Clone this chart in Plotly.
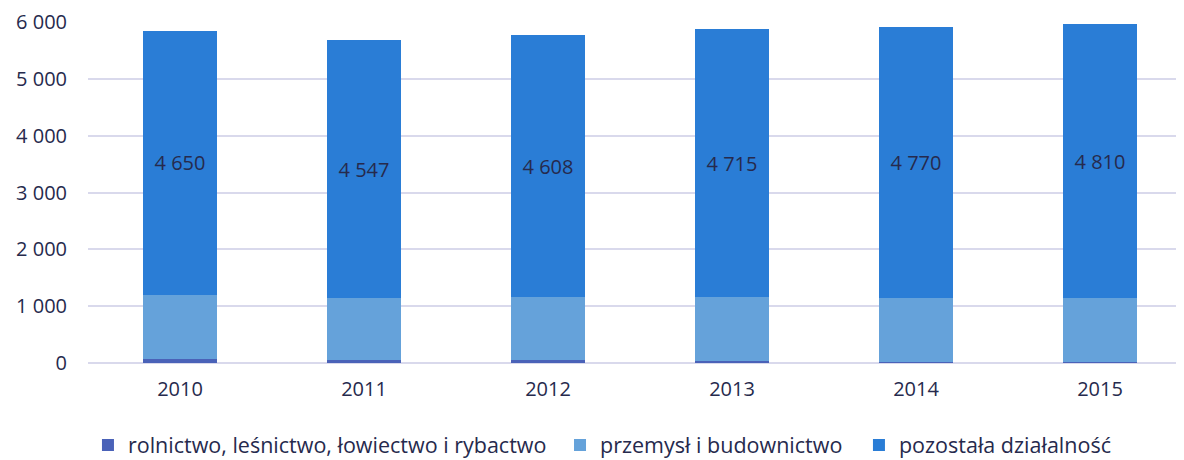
import plotly.graph_objects as go

years = ["2010", "2011", "2012", "2013", "2014", "2015"]
rolnictwo = [65, 55, 45, 30, 15, 10]
przemysl = [1130, 1082, 1112, 1125, 1120, 1138]
pozostala = [4650, 4547, 4608, 4715, 4770, 4810]

names = ["rolnictwo, leśnictwo, łowiectwo i rybactwo", "przemysł i budownictwo", "pozostała działalność"]
colors = ["#4a62b8", "#65a2da", "#2a7dd6"]

FONT = "Open Sans"
TXT = "#262a4d"

fig = go.Figure()
fig.add_trace(go.Bar(x=years, y=rolnictwo, name=names[0], marker_color=colors[0],
                     marker_line_width=0, hoverinfo="skip", legend="legend"))
fig.add_trace(go.Bar(x=years, y=przemysl, name=names[1], marker_color=colors[1],
                     marker_line_width=0, hoverinfo="skip", legend="legend2"))
fig.add_trace(go.Bar(x=years, y=pozostala, name=names[2], marker_color=colors[2],
                     marker_line_width=0, texttemplate="%{y:,d}", textposition="inside",
                     insidetextanchor="middle", textangle=0,
                     textfont=dict(family=FONT, size=20, color=TXT), hoverinfo="skip",
                     legend="legend3"))

leg = dict(orientation="h", xanchor="left", xref="container", yref="container",
           y=0.0332, yanchor="middle",
           font=dict(family=FONT, size=21.5, color=TXT), itemwidth=30)

fig.update_layout(
    barmode="stack",
    bargap=0.6,
    separators=", ",
    width=1176, height=452,
    margin=dict(l=80, r=0, t=14, b=97),
    paper_bgcolor="white", plot_bgcolor="white",
    font=dict(family=FONT, size=20, color=TXT),
    showlegend=True,
    legend=dict(leg, x=0.068),
    legend2=dict(leg, x=0.4694),
    legend3=dict(leg, x=0.7236),
)
fig.update_xaxes(type="category", range=[-0.5, 5.4565], showgrid=False, showline=False,
                 automargin=False,
                 ticks="", ticklabelstandoff=12, tickfont=dict(family=FONT, size=20, color=TXT))
fig.update_yaxes(range=[0, 6000], dtick=1000, tickformat=",d", showgrid=True,
                 automargin=False,
                 gridcolor="#d9d9ec", gridwidth=2, zeroline=True, zerolinecolor="#d9d9ec",
                 zerolinewidth=2, showline=False, ticks="", ticklabelstandoff=20,
                 tickfont=dict(family=FONT, size=20, color=TXT))

fig.write_html("out.html")
